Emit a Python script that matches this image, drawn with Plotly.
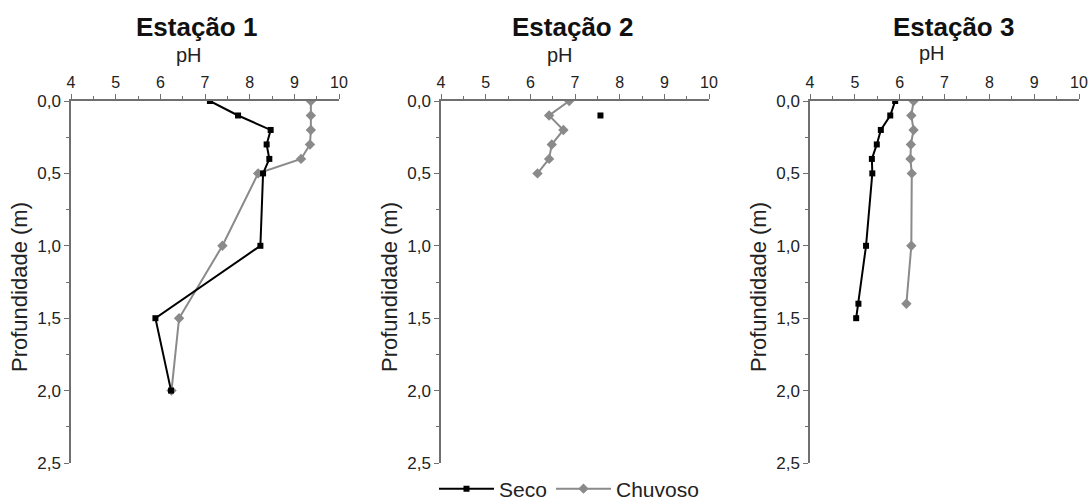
import plotly.graph_objects as go

# ---- data ----
depth1_seco = [0.0, 0.1, 0.2, 0.3, 0.4, 0.5, 1.0, 1.5, 2.0]
ph1_seco = [7.11, 7.74, 8.47, 8.38, 8.44, 8.30, 8.24, 5.89, 6.24]
depth1_chuv = [0.0, 0.1, 0.2, 0.3, 0.4, 0.5, 1.0, 1.5, 2.0]
ph1_chuv = [9.37, 9.37, 9.37, 9.35, 9.15, 8.19, 7.39, 6.42, 6.25]

depth2_seco = [0.1]
ph2_seco = [7.57]
depth2_chuv = [0.0, 0.1, 0.2, 0.3, 0.4, 0.5]
ph2_chuv = [6.87, 6.42, 6.74, 6.48, 6.42, 6.16]

depth3_seco = [0.0, 0.1, 0.2, 0.3, 0.4, 0.5, 1.0, 1.4, 1.5]
ph3_seco = [5.90, 5.79, 5.58, 5.49, 5.38, 5.39, 5.25, 5.08, 5.03]
depth3_chuv = [0.0, 0.1, 0.2, 0.3, 0.4, 0.5, 1.0, 1.4]
ph3_chuv = [6.31, 6.26, 6.31, 6.25, 6.24, 6.27, 6.26, 6.15]

titles = ["Estação 1", "Estação 2", "Estação 3"]
x_label = "pH"
y_label = "Profundidade (m)"
series_names = ["Seco", "Chuvoso"]
ph_ticks = [4, 5, 6, 7, 8, 9, 10]
depth_ticks = [0.0, 0.5, 1.0, 1.5, 2.0, 2.5]

# ---- styling ----
W, H = 1089, 501
FONT = "Liberation Sans, Arial, sans-serif"
SECO_C = "#000000"
CHUV_C = "#8a8a8a"
AXIS_C = "#707070"
TXT_C = "#222222"

px_dom = [(71, 339), (441, 709), (810, 1079)]
y_top, y_bot = 101, 463
ydom = [1 - y_bot / H, 1 - y_top / H]

fig = go.Figure()

data = [
    (depth1_seco, ph1_seco, depth1_chuv, ph1_chuv),
    (depth2_seco, ph2_seco, depth2_chuv, ph2_chuv),
    (depth3_seco, ph3_seco, depth3_chuv, ph3_chuv),
]

for i, (ds, ps, dc, pc) in enumerate(data):
    sfx = "" if i == 0 else str(i + 1)
    xa, ya = "x" + sfx, "y" + sfx
    fig.add_trace(go.Scatter(
        x=pc, y=dc, xaxis=xa, yaxis=ya, name=series_names[1],
        mode="lines+markers", showlegend=(i == 0), legend="legend2",
        line=dict(color=CHUV_C, width=2),
        marker=dict(symbol="diamond", size=8, color=CHUV_C),
    ))
    fig.add_trace(go.Scatter(
        x=ps, y=ds, xaxis=xa, yaxis=ya, name=series_names[0],
        mode="lines+markers", showlegend=(i == 0), legend="legend",
        line=dict(color=SECO_C, width=2),
        marker=dict(symbol="square", size=6, color=SECO_C),
    ))

leg_common = dict(orientation="h", xanchor="left", y=1 - 489 / H, yanchor="middle",
                  font=dict(size=21, color=TXT_C), itemwidth=55,
                  bgcolor="rgba(0,0,0,0)")

layout = dict(
    width=W, height=H,
    margin=dict(l=0, r=0, t=0, b=0, autoexpand=False),
    paper_bgcolor="white", plot_bgcolor="white",
    separators=",.",
    font=dict(family=FONT, color=TXT_C),
    legend=dict(x=434 / W, **leg_common),
    legend2=dict(x=551 / W, **leg_common),
)

annotations = []
title_cx = [197, 572, 953]
ph_cx = [189, 560, 932]
for i in range(3):
    sfx = "" if i == 0 else str(i + 1)
    x0, x1 = px_dom[i]
    layout["xaxis" + sfx] = dict(
        domain=[x0 / W, x1 / W], anchor="y" + sfx, side="top", automargin=False,
        range=[4, 10], tickvals=ph_ticks, ticks="outside", ticklen=5,
        tickcolor=AXIS_C, showline=True, linecolor=AXIS_C, linewidth=1.5,
        showgrid=False, zeroline=False, tickfont=dict(size=16, color=TXT_C),
        minor=dict(dtick=0.5, tick0=4, ticks="outside", ticklen=3, tickcolor=AXIS_C, showgrid=False),
    )
    layout["yaxis" + sfx] = dict(
        domain=ydom, anchor="x" + sfx, automargin=False,
        range=[2.5, 0], tickvals=depth_ticks, tickformat=".1f",
        ticks="outside", ticklen=5, tickcolor=AXIS_C,
        showline=True, linecolor=AXIS_C, linewidth=1.5,
        showgrid=False, zeroline=False, tickfont=dict(size=17, color=TXT_C),
        minor=dict(dtick=0.25, tick0=0, ticks="outside", ticklen=3, tickcolor=AXIS_C, showgrid=False),
    )
    annotations.append(dict(
        text="<b>" + titles[i] + "</b>", x=title_cx[i] / W, y=1 - 27 / H,
        xref="paper", yref="paper", xanchor="center", yanchor="middle",
        showarrow=False, font=dict(size=26, color="#111111", family=FONT)))
    annotations.append(dict(
        text=x_label, x=ph_cx[i] / W, y=1 - (55 if i < 2 else 53) / H,
        xref="paper", yref="paper", xanchor="center", yanchor="middle",
        showarrow=False, font=dict(size=20, color=TXT_C, family=FONT)))
    annotations.append(dict(
        text=y_label, x=(x0 - 52) / W, y=1 - 287 / H,
        xref="paper", yref="paper", xanchor="center", yanchor="middle",
        textangle=-90, showarrow=False, font=dict(size=22, color=TXT_C, family=FONT)))

layout["annotations"] = annotations
fig.update_layout(**layout)
fig.write_html("out.html", config={"displayModeBar": False},
               post_script="document.body.style.margin='0';document.body.style.overflow='hidden';")
